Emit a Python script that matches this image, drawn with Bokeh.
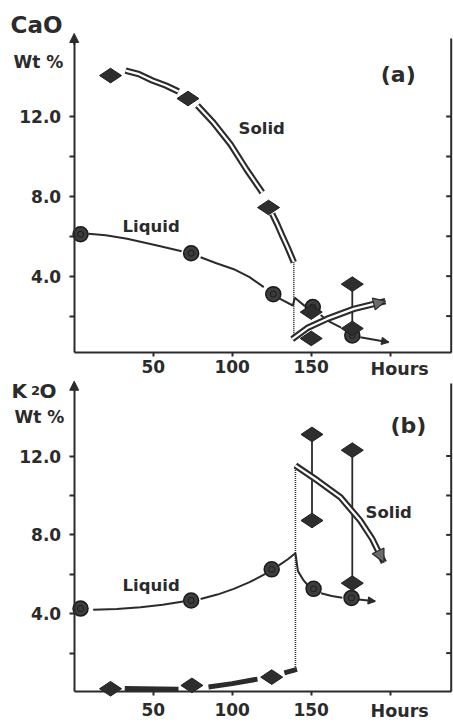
import numpy as np
from bokeh.plotting import figure
from bokeh.models import Range1d, FixedTicker, NumeralTickFormatter, Label, Arrow, NormalHead
from bokeh.layouts import column
from bokeh.embed import file_html
from bokeh.resources import INLINE

INK = "#2b2b2b"
FONT = "DejaVu Sans"

# ---------------- data: panel (a) CaO ----------------
cao_liq_hours = [4, 74, 126, 151, 176]
cao_liq = [6.1, 5.15, 3.1, 2.45, 1.03]
cao_sol_hours = [23, 72, 123]
cao_sol = [14.05, 12.9, 7.44]
cao_late_hours = [150, 150, 176, 176]
cao_late = [2.2, 0.88, 3.6, 1.38]
cao_bar_hours = [176]
cao_bar_top = [3.6]
cao_bar_bot = [1.38]

# trend curves
cao_sol_trend_h = [[32.5, 41, 49.5, 58, 66], [78, 88, 99, 109, 119], [125.3, 128.5, 131.6, 135, 139]]
cao_sol_trend_v = [[14.3, 14.12, 13.8, 13.55, 13.25], [12.55, 11.7, 10.6, 9.35, 8.2], [7.12, 6.6, 6.04, 5.45, 4.7]]
cao_drop_h = [139]
cao_drop_top = [4.7]
cao_drop_bot = [0.85]
cao_sol_arrow_h = [138, 147.5, 160, 177, 197]
cao_sol_arrow_v = [0.85, 1.4, 1.86, 2.36, 2.75]
cao_liq_trend_h = [[9, 20, 33.5, 52.5, 68], [80, 90, 101, 111, 120], [130, 138.4, 139.6, 146], [156, 160, 164, 169]]
cao_liq_trend_v = [[6.12, 6.05, 5.87, 5.54, 5.25], [4.95, 4.65, 4.35, 3.95, 3.45], [2.87, 2.53, 2.92, 2.5], [2.05, 1.78, 1.62, 1.42]]
cao_liq_arrow_h = [181, 199]
cao_liq_arrow_v = [0.94, 0.69]

# ---------------- data: panel (b) K2O ----------------
k2o_liq_hours = [4, 74, 125, 151.5, 175.5]
k2o_liq = [4.26, 4.67, 6.25, 5.26, 4.8]
k2o_sol_hours = [23, 74.5, 125]
k2o_sol = [0.19, 0.36, 0.78]
k2o_late_hours = [150.5, 150.5, 176, 176]
k2o_late = [13.1, 8.73, 12.3, 5.55]
k2o_bar_hours = [150.5, 176]
k2o_bar_top = [13.1, 12.3]
k2o_bar_bot = [8.73, 5.55]

k2o_liq_trend_h = [[12, 27, 42, 56, 69], [80, 90.6, 101, 111, 121], [129.5, 135, 140, 141.6, 145.2, 148], [156.2, 163, 169.7]]
k2o_liq_trend_v = [[4.2, 4.24, 4.33, 4.45, 4.62], [4.75, 4.97, 5.26, 5.6, 6.02], [6.45, 6.75, 7.07, 6.16, 5.69, 5.43], [5.04, 4.9, 4.81]]
k2o_liq_arrow_h = [180, 190.5]
k2o_liq_arrow_v = [4.72, 4.63]
k2o_band_h = [[32, 66], [85, 100, 116], [133, 141]]
k2o_band_v = [[0.2, 0.16], [0.28, 0.45, 0.68], [1.0, 1.17]]
k2o_drop_h = [140]
k2o_drop_top = [11.5]
k2o_drop_bot = [1.17]
k2o_sol_arrow_h = [140, 154, 168.6, 181, 188.6, 196]
k2o_sol_arrow_v = [11.52, 10.76, 9.9, 8.73, 7.8, 6.6]

x_ticks = [50, 100, 150]
x_minor = [200]
y_ticks = [4, 8, 12]
y_minor = [2, 6, 10]
right_ticks = [2, 4, 6, 8, 10, 12]

# plotted extent (hours) of the axes
X_LO, X_HI = 0, 238.6
# canvas extent in data units (the frame spans the whole canvas)
XC0, XC1 = -46.65, 240.06


def make_fig(height, yc0, yc1, y_lo, y_hi, standoff):
    p = figure(width=453, height=height, x_range=Range1d(XC0, XC1), y_range=Range1d(yc0, yc1),
               output_backend="svg", toolbar_location=None,
               min_border_left=0, min_border_right=0, min_border_top=0, min_border_bottom=0)
    p.grid.visible = False
    p.outline_line_color = None
    p.background_fill_color = "white"
    p.border_fill_color = "white"
    xa = p.xaxis[0]
    xa.fixed_location = y_lo
    xa.bounds = (X_LO, X_HI)
    xa.ticker = FixedTicker(ticks=x_ticks, minor_ticks=x_minor)
    xa.major_tick_out = 4
    xa.major_tick_in = 0
    xa.minor_tick_out = 4
    xa.minor_tick_in = 0
    xa.major_label_standoff = standoff
    ya = p.yaxis[0]
    ya.fixed_location = X_LO
    ya.bounds = (y_lo, y_hi)
    ya.ticker = FixedTicker(ticks=y_ticks, minor_ticks=y_minor)
    ya.formatter = NumeralTickFormatter(format="0.0")
    ya.major_tick_out = 5
    ya.major_tick_in = 0
    ya.minor_tick_out = 5
    ya.minor_tick_in = 0
    ya.major_label_standoff = 8
    for ax in (xa, ya):
        ax.axis_line_width = 2
        ax.axis_line_color = INK
        ax.major_tick_line_color = INK
        ax.minor_tick_line_color = INK
        ax.major_tick_line_width = 2
        ax.minor_tick_line_width = 2
        ax.major_label_text_font = FONT
        ax.major_label_text_font_style = "bold"
        ax.major_label_text_font_size = "17px"
        ax.major_label_text_color = INK
    # right border with inward ticks
    p.segment([X_HI], [y_lo], [X_HI], [y_hi], line_width=2, line_color=INK)
    p.ray(x=[X_HI] * len(right_ticks), y=right_ticks, length=5, length_units="screen",
          angle=np.pi, line_width=2, line_color=INK)
    return p


def y_arrow(p, y_hi, tip):
    p.add_layout(Arrow(end=NormalHead(size=9, fill_color=INK, line_color=INK, line_width=1),
                       x_start=X_LO, y_start=y_hi - 0.3, x_end=X_LO, y_end=tip,
                       line_color=INK, line_width=2))


def lab(p, x, y, text, size):
    p.add_layout(Label(x=x, y=y, text=text, text_font=FONT, text_font_size=f"{size}px",
                       text_font_style="bold", text_color=INK,
                       text_baseline="middle", text_align="left"))


def double_line(p, xs, ys):
    p.multi_line(xs, ys, line_width=6.5, line_color=INK, line_cap="butt", line_join="round")
    p.multi_line(xs, ys, line_width=2.2, line_color="white", line_cap="butt", line_join="round")


def head(p, hx, hy, size, fill):
    p.add_layout(Arrow(end=NormalHead(size=size, fill_color=fill, line_color=INK, line_width=1.2),
                       x_start=hx[-2], y_start=hy[-2], x_end=hx[-1], y_end=hy[-1],
                       line_alpha=0, line_width=1))


def circles(p, hx, hy):
    p.scatter(hx, hy, marker="circle", size=15, fill_color="#3d3d3d", line_color="#1a1a1a", line_width=1.5)
    p.scatter(hx, hy, marker="circle", size=6, fill_color=None, line_color="#1a1a1a", line_width=1)


def diamonds(p, hx, hy):
    p.scatter(hx, hy, marker="diamond", angle=np.pi / 2, size=22, fill_color="#2e2e2e",
              line_color="#1f1f1f", line_width=1)


# ---------------- panel (a) ----------------
YA_LO, YA_HI = 0.175, 15.91
pa = make_fig(379, -1.177, 17.811, YA_LO, YA_HI, 3)
y_arrow(pa, YA_HI, 16.16)

pa.multi_line(cao_liq_trend_h, cao_liq_trend_v, line_width=2, line_color=INK)
pa.line(cao_liq_arrow_h, cao_liq_arrow_v, line_width=2, line_color=INK)
head(pa, cao_liq_arrow_h, cao_liq_arrow_v, 7, INK)
double_line(pa, cao_sol_trend_h, cao_sol_trend_v)
pa.segment(cao_drop_h, cao_drop_top, cao_drop_h, cao_drop_bot, line_width=1.6, line_color=INK, line_dash="1 1")
pa.segment(cao_bar_hours, cao_bar_top, cao_bar_hours, cao_bar_bot, line_width=1.8, line_color=INK)
double_line(pa, [cao_sol_arrow_h], [cao_sol_arrow_v])
head(pa, cao_sol_arrow_h, cao_sol_arrow_v, 12, "#6a6a6a")
circles(pa, cao_liq_hours, cao_liq)
diamonds(pa, cao_sol_hours, cao_sol)
diamonds(pa, cao_late_hours, cao_late)

lab(pa, -40.3, 16.56, "CaO", 23)
lab(pa, -38.4, 14.75, "Wt %", 17)
lab(pa, 194, 14.1, "(a)", 22)
lab(pa, 104, 11.4, "Solid", 16.5)
lab(pa, 30.6, 6.49, "Liquid", 16.5)
lab(pa, 187.6, -0.626, "Hours", 17.5)

# ---------------- panel (b) ----------------
YB_LO, YB_HI = 0.05, 15.69
pb = make_fig(344, -1.574, 15.888, YB_LO, YB_HI, 7)
y_arrow(pb, YB_HI, 15.8)

pb.multi_line(k2o_liq_trend_h, k2o_liq_trend_v, line_width=2, line_color=INK)
pb.line(k2o_liq_arrow_h, k2o_liq_arrow_v, line_width=2, line_color=INK)
head(pb, k2o_liq_arrow_h, k2o_liq_arrow_v, 7, INK)
pb.multi_line(k2o_band_h, k2o_band_v, line_width=5, line_color=INK, line_cap="butt")
pb.segment(k2o_drop_h, k2o_drop_top, k2o_drop_h, k2o_drop_bot, line_width=1.6, line_color=INK, line_dash="1 1")
pb.segment(k2o_bar_hours, k2o_bar_top, k2o_bar_hours, k2o_bar_bot, line_width=1.8, line_color=INK)
double_line(pb, [k2o_sol_arrow_h], [k2o_sol_arrow_v])
head(pb, k2o_sol_arrow_h, k2o_sol_arrow_v, 13, "#6a6a6a")
circles(pb, k2o_liq_hours, k2o_liq)
diamonds(pb, k2o_sol_hours, k2o_sol)
diamonds(pb, k2o_late_hours, k2o_late)

lab(pb, -39.7, 15.28, "K", 20)
lab(pb, -27.4, 15.33, "2", 13)
lab(pb, -22.0, 15.28, "O", 20)
lab(pb, -37.8, 13.98, "Wt %", 17)
lab(pb, 200.2, 13.55, "(b)", 22)
lab(pb, 184.4, 9.15, "Solid", 16.5)
lab(pb, 30.6, 5.43, "Liquid", 16.5)
lab(pb, 187.6, -0.964, "Hours", 17.5)

layout = column(pa, pb)
open("out.html", "w").write(file_html(layout, INLINE))
